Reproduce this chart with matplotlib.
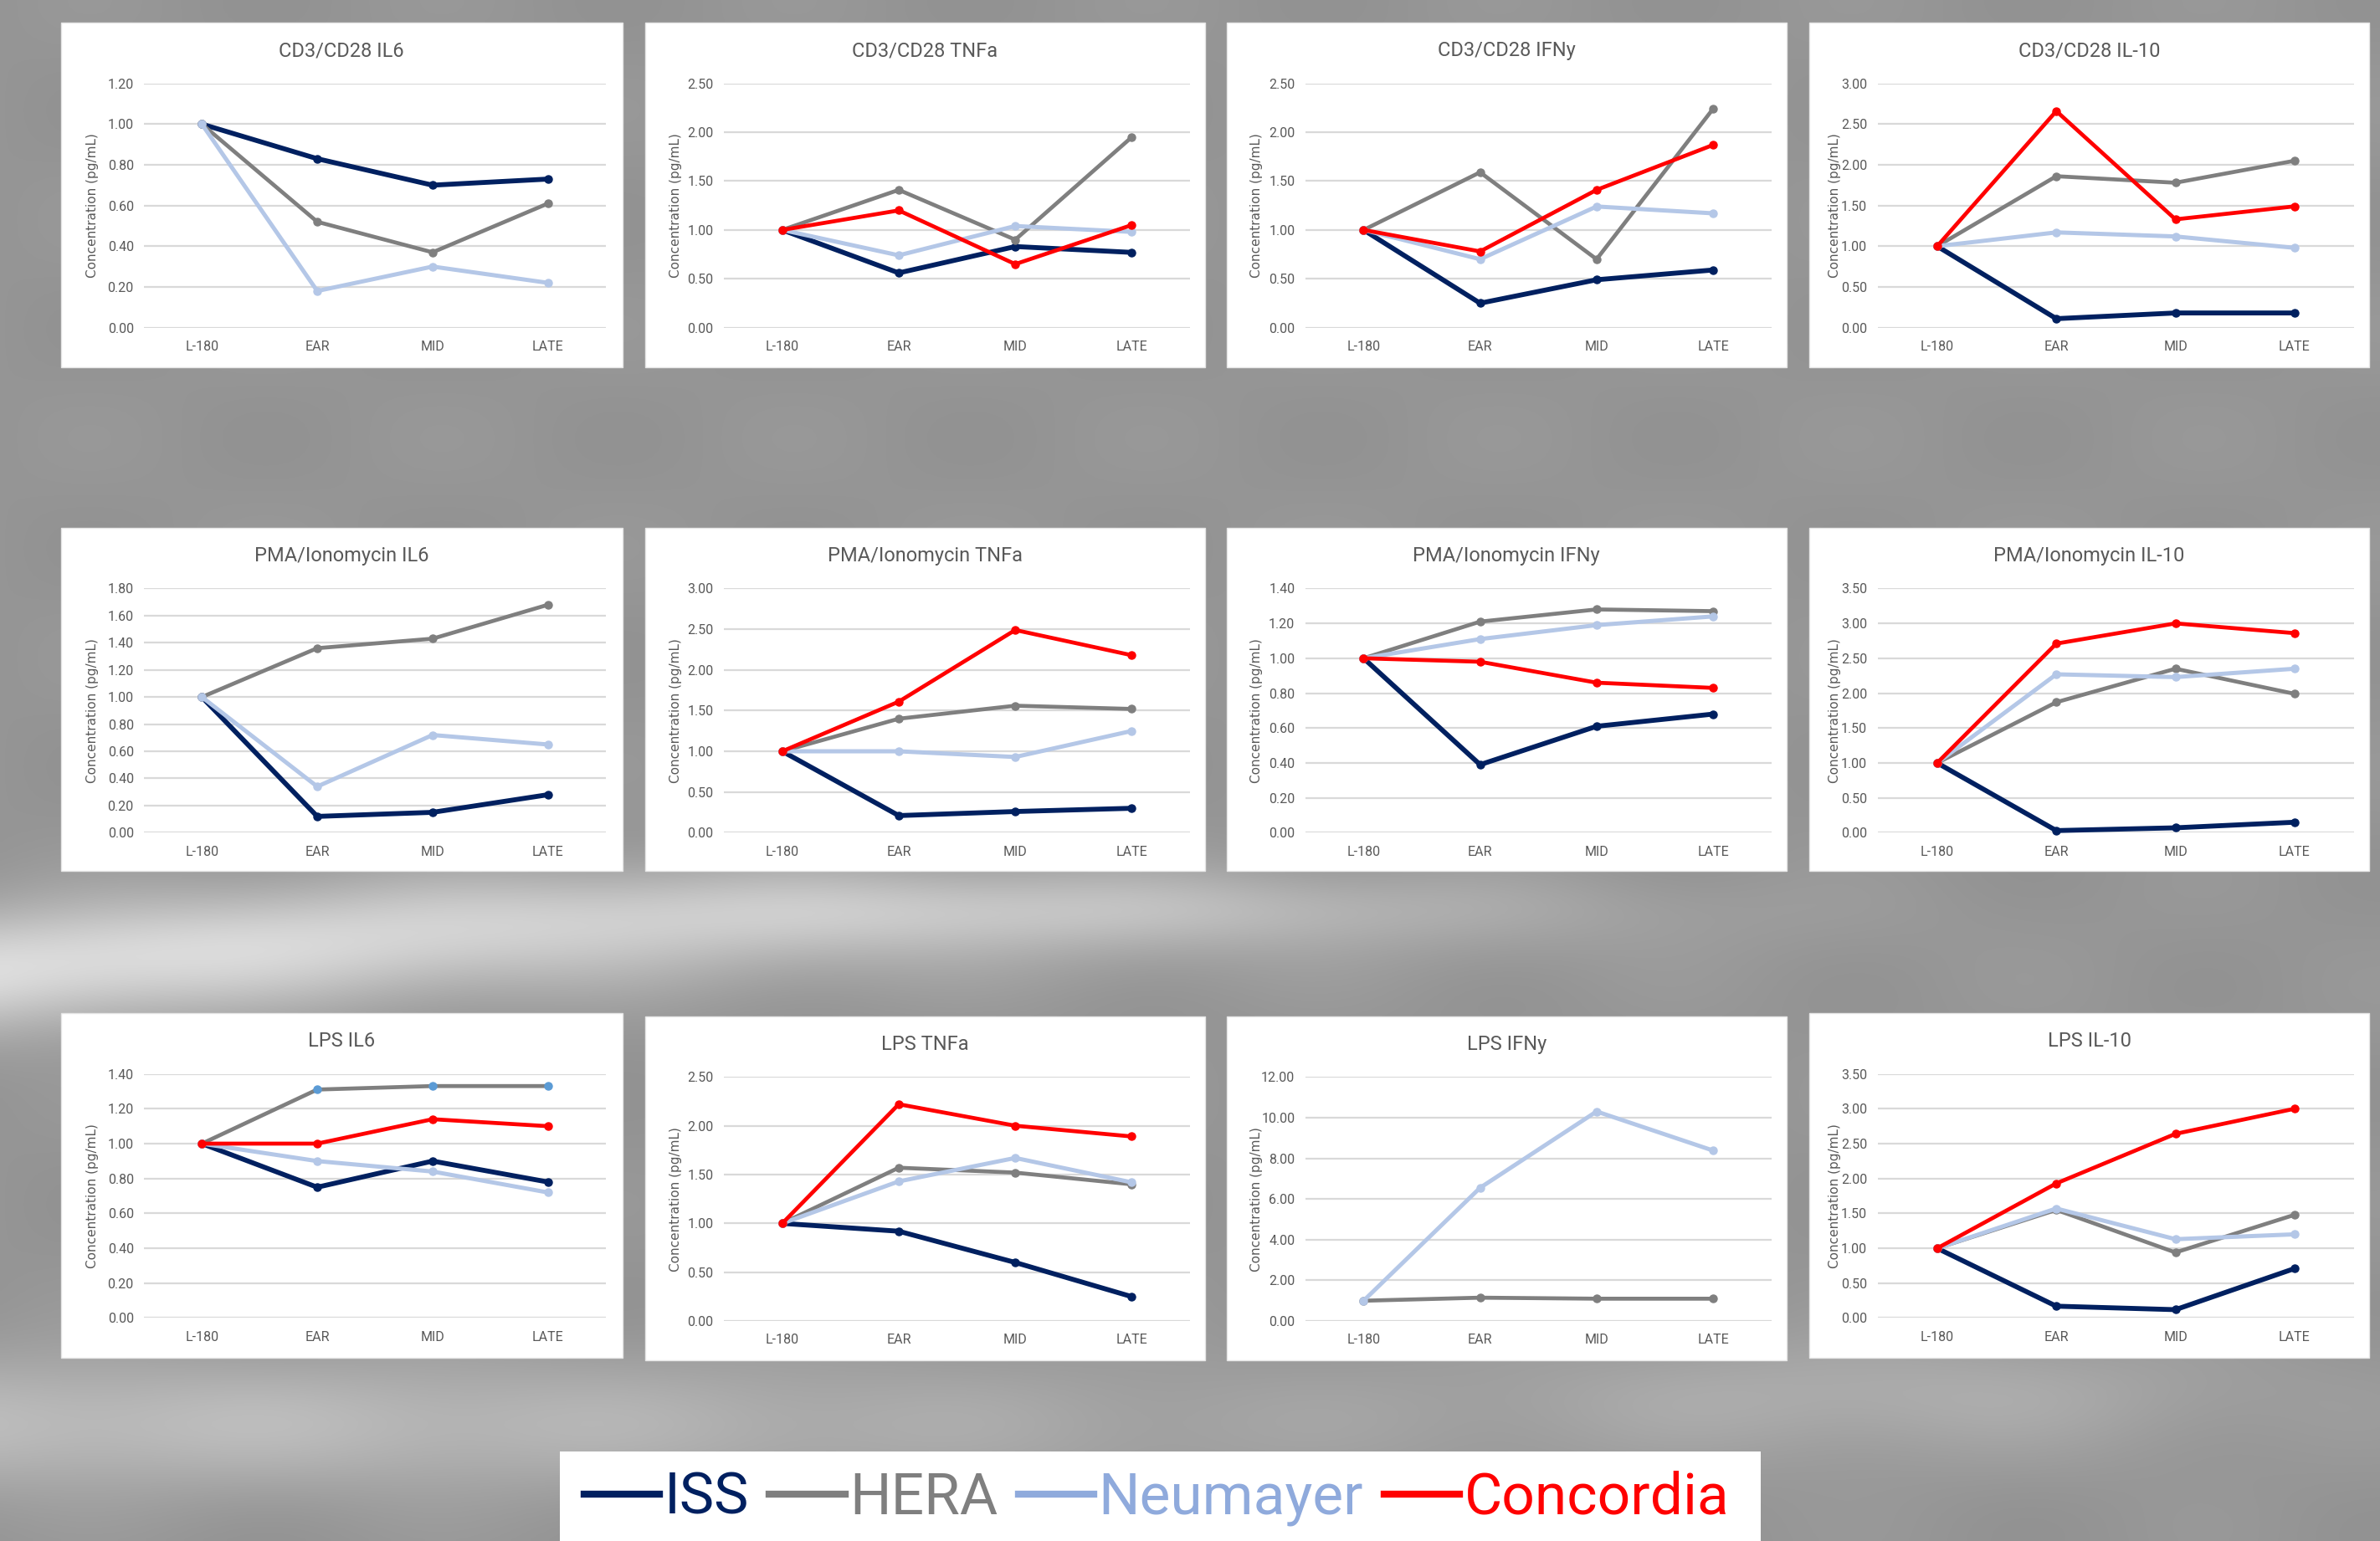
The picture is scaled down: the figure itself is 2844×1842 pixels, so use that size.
import numpy as np
import matplotlib
matplotlib.use("Agg")
import matplotlib.pyplot as plt
from matplotlib.lines import Line2D
from matplotlib.patches import Rectangle
from matplotlib.ticker import FormatStrFormatter, MultipleLocator

# ---------------- data ----------------
categories = ["L-180", "EAR", "MID", "LATE"]
titles = ["CD3/CD28 IL6", "CD3/CD28 TNFa", "CD3/CD28 IFNy", "CD3/CD28 IL-10",
          "PMA/Ionomycin IL6", "PMA/Ionomycin TNFa", "PMA/Ionomycin IFNy", "PMA/Ionomycin IL-10",
          "LPS IL6", "LPS TNFa", "LPS IFNy", "LPS IL-10"]
y_max = [1.2, 2.5, 2.5, 3.0, 1.8, 3.0, 1.4, 3.5, 1.4, 2.5, 12.0, 3.5]
y_step = [0.2, 0.5, 0.5, 0.5, 0.2, 0.5, 0.2, 0.5, 0.2, 0.5, 2.0, 0.5]

iss = [[1, 0.83, 0.70, 0.73], [1, 0.56, 0.83, 0.77], [1, 0.25, 0.49, 0.59], [1, 0.11, 0.18, 0.18],
       [1, 0.12, 0.15, 0.28], [1, 0.21, 0.26, 0.30], [1, 0.39, 0.61, 0.68], [1, 0.03, 0.07, 0.15],
       [1, 0.75, 0.90, 0.78], [1, 0.92, 0.60, 0.25], None, [1, 0.17, 0.12, 0.71]]
hera = [[1, 0.52, 0.37, 0.61], [1, 1.41, 0.90, 1.95], [1, 1.59, 0.70, 2.24], [1, 1.86, 1.78, 2.05],
        [1, 1.36, 1.43, 1.68], [1, 1.40, 1.56, 1.52], [1, 1.21, 1.28, 1.27], [1, 1.87, 2.35, 1.99],
        [1, 1.31, 1.33, 1.33], [1, 1.57, 1.52, 1.40], [1, 1.15, 1.10, 1.10], [1, 1.55, 0.94, 1.48]]
neumayer = [[1, 0.18, 0.30, 0.22], [1, 0.74, 1.04, 0.98], [1, 0.70, 1.24, 1.17], [1, 1.17, 1.12, 0.98],
            [1, 0.34, 0.72, 0.65], [1, 1.00, 0.93, 1.25], [1, 1.11, 1.19, 1.24], [1, 2.27, 2.23, 2.35],
            [1, 0.90, 0.84, 0.72], [1, 1.43, 1.67, 1.42], [1, 6.55, 10.3, 8.38], [1, 1.57, 1.13, 1.20]]
concordia = [None, [1, 1.20, 0.65, 1.05], [1, 0.78, 1.41, 1.87], [1, 2.66, 1.33, 1.49],
             None, [1, 1.61, 2.49, 2.18], [1, 0.98, 0.86, 0.83], [1, 2.71, 3.00, 2.86],
             [1, 1.00, 1.14, 1.10], [1, 2.22, 2.00, 1.89], None, [1, 1.93, 2.64, 3.00]]

series_names = ["ISS", "HERA", "Neumayer", "Concordia"]

# ---------------- style ----------------
NARROW = ["Liberation Sans Narrow", "Roboto", "DejaVu Sans"]
line_colors = ["#002060", "#7F7F7F", "#B4C7E7", "#FF0000"]
legend_colors = ["#002060", "#7F7F7F", "#8FAADC", "#FF0000"]
line_widths = [4.2, 3.4, 3.6, 3.4]

W, H = 2844, 1842
SW, SH = 1568.0, 1016.0   # layout measured on a reduced copy
fig = plt.figure(figsize=(W / 100, H / 100), dpi=100)

# background
bg = fig.add_axes([0, 0, 1, 1], zorder=-10)
xs = np.linspace(0, SW, 700)
ys = np.linspace(0, SH, 460)
X, Y = np.meshgrid(xs, ys)
g = 0.585 + 0.012 * np.sin(X / 37.0) * np.cos(Y / 23.0)
yc = 640 - 0.09 * X + 0.00006 * X ** 2
g += 0.28 * np.exp(-((Y - yc) / 40.0) ** 2) * np.exp(-(X / 650.0) ** 2)
g += 0.10 * np.exp(-((Y - 600) / 25.0) ** 2) * np.exp(-((X - 700) / 350.0) ** 2)
g += 0.15 * np.exp(-((Y - 940) / 45.0) ** 2) * np.exp(-(X / 800.0) ** 2)
g += 0.08 * np.exp(-((Y - 920) / 40.0) ** 2) * np.exp(-((X - 1250) / 250.0) ** 2)
g = np.clip(g, 0, 1)
bg.imshow(np.dstack([g, g, g]), extent=[0, 1, 0, 1], aspect="auto", interpolation="bilinear")
bg.set_axis_off()

col_x = [(40, 410), (425, 794), (808, 1177), (1192, 1561)]
row_y = [(15, 242), (348, 574), (668, 895)]
left_off = [55, 52, 52, 45]
ylab_off = [21, 20, 20, 17]


def fx(x):
    return x / SW


def fy(y):
    return 1 - y / SH


for i in range(12):
    r, c = divmod(i, 4)
    x0, x1 = col_x[c]
    y0, y1 = row_y[r]
    if r == 2 and c in (1, 2):
        y0, y1 = y0 + 2, y1 + 2
    # white panel
    fig.patches.append(Rectangle((fx(x0), fy(y1)), fx(x1) - fx(x0), fy(y0) - fy(y1),
                                 transform=fig.transFigure, facecolor="white",
                                 edgecolor="#E6E6E6", linewidth=1.0, zorder=-5))
    al, ar = x0 + left_off[c], x0 + 359
    at, ab = y0 + 40, y0 + 201
    ax = fig.add_axes([fx(al), fy(ab), fx(ar) - fx(al), fy(at) - fy(ab)], zorder=1)
    ax.set_facecolor("none")
    ax.set_xlim(-0.5, 3.5)
    ax.set_ylim(0, y_max[i])
    ax.yaxis.set_major_locator(MultipleLocator(y_step[i]))
    ax.yaxis.set_major_formatter(FormatStrFormatter("%.2f"))
    ax.set_xticks(range(len(categories)))
    ax.set_xticklabels(categories)
    ax.grid(axis="y", color="#D9D9D9", linewidth=1.6)
    ax.set_axisbelow(True)
    for s in ax.spines.values():
        s.set_visible(False)
    ax.tick_params(length=0, labelsize=11.5, labelcolor="#595959")
    ax.tick_params(axis="y", pad=9)
    ax.tick_params(axis="x", pad=11)
    for lab in ax.get_xticklabels() + ax.get_yticklabels():
        lab.set_family(NARROW)

    data = [iss[i], hera[i], neumayer[i], concordia[i]]
    for k, vals in enumerate(data):
        if vals is None:
            continue
        mcol = line_colors[k]
        if k == 1 and titles[i] == "LPS IL6":
            mcol = "#5B9BD5"
        ax.plot(range(len(categories)), vals, color=line_colors[k], lw=line_widths[k],
                marker="o", markersize=6.5, markerfacecolor=mcol, markeredgecolor=mcol,
                solid_joinstyle="round", zorder=3 + k, clip_on=False)

    fig.text(fx((x0 + x1) / 2), fy(y0 + 18.5), titles[i], ha="center", va="center",
             fontsize=17, color="#595959", family=NARROW)
    fig.text(fx(x0 + ylab_off[c]), fy((at + ab) / 2), "Concentration (pg/mL)", rotation=90,
             ha="center", va="center", fontsize=11, color="#595959", family="DejaVu Sans")

# legend box
lx0, lx1, ly0 = 369, 1160, 957
fig.patches.append(Rectangle((fx(lx0), 0), fx(lx1) - fx(lx0), fy(ly0),
                             transform=fig.transFigure, facecolor="white",
                             edgecolor="none", zorder=-5))
handles = [Line2D([], [], color=legend_colors[k], lw=6) for k in range(4)]
leg = fig.legend(handles, series_names, loc="center",
                 bbox_to_anchor=(fx(762), fy(988)),
                 ncol=4, frameon=False, handlelength=1.3,
                 handletextpad=0.08, columnspacing=0.35,
                 prop={"family": NARROW, "size": 50})
for t, col in zip(leg.get_texts(), legend_colors):
    t.set_color(col)

fig.savefig("out.png", dpi=100)
